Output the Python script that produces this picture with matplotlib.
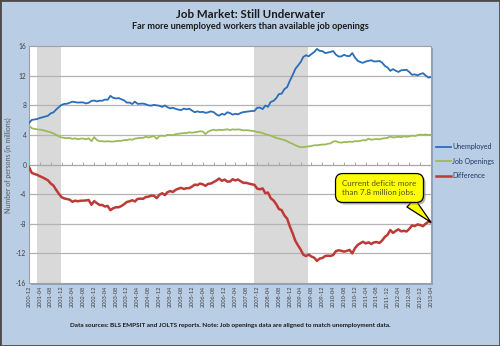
import matplotlib
matplotlib.use('Agg')
import matplotlib.pyplot as plt
import matplotlib.patches as patches
import matplotlib.patheffects as pe
import numpy as np
import pandas as pd

plt.rcParams['font.family'] = ['Lato', 'DejaVu Sans']

# monthly series, 2000-12 .. 2013-04 (millions of persons)
months = pd.date_range('2000-12-01', periods=149, freq='MS')

unemployed = (
    [5.60]
    + [6.02, 6.08, 6.14, 6.28, 6.38, 6.49, 6.58, 6.91, 7.04, 7.42, 7.76, 8.06]
    + [8.18, 8.21, 8.34, 8.48, 8.43, 8.36, 8.39, 8.38, 8.25, 8.34, 8.59, 8.64]
    + [8.52, 8.62, 8.61, 8.77, 8.74, 9.27, 9.01, 8.92, 8.97, 8.81, 8.67, 8.36]
    + [8.37, 8.17, 8.49, 8.19, 8.21, 8.23, 8.14, 7.99, 7.95, 8.06, 7.99, 7.93]
    + [7.78, 7.98, 7.74, 7.58, 7.66, 7.52, 7.41, 7.35, 7.55, 7.45, 7.54, 7.28]
    + [7.06, 7.18, 7.07, 7.12, 6.98, 7.05, 7.17, 7.07, 6.76, 6.59, 6.85, 6.73]
    + [7.06, 6.94, 6.74, 6.85, 6.77, 6.97, 7.08, 7.12, 7.18, 7.22, 7.24, 7.65]
    + [7.69, 7.48, 7.96, 7.79, 8.45, 8.59, 8.94, 9.51, 9.57, 10.17, 10.45, 11.29]
    + [12.06, 12.90, 13.33, 13.82, 14.52, 14.76, 14.61, 14.92, 15.19, 15.61, 15.34, 15.32]
    + [15.05, 15.11, 15.20, 15.32, 14.85, 14.58, 14.60, 14.81, 14.66, 14.63, 15.05, 14.45]
    + [14.00, 13.82, 13.73, 13.91, 14.00, 14.08, 13.92, 13.92, 13.99, 13.76, 13.32, 13.10]
    + [12.65, 12.88, 12.67, 12.50, 12.72, 12.75, 12.79, 12.49, 12.11, 12.17, 12.04, 12.21]
    + [12.33, 12.03, 11.74, 11.80]
)

job_openings = (
    [5.25]
    + [4.90, 4.80, 4.75, 4.70, 4.65, 4.55, 4.45, 4.35, 4.20, 4.00, 3.80, 3.65]
    + [3.60, 3.55, 3.60, 3.45, 3.55, 3.40, 3.50, 3.50, 3.40, 3.55, 3.15, 3.70]
    + [3.30, 3.15, 3.15, 3.10, 3.15, 3.10, 3.10, 3.15, 3.20, 3.20, 3.30, 3.30]
    + [3.40, 3.35, 3.50, 3.55, 3.60, 3.60, 3.75, 3.65, 3.75, 3.85, 3.45, 3.85]
    + [3.90, 3.85, 4.00, 4.00, 3.95, 4.10, 4.15, 4.20, 4.25, 4.25, 4.35, 4.30]
    + [4.35, 4.40, 4.50, 4.45, 4.10, 4.45, 4.60, 4.70, 4.60, 4.70, 4.65, 4.70]
    + [4.75, 4.65, 4.75, 4.70, 4.75, 4.70, 4.60, 4.65, 4.60, 4.55, 4.50, 4.40]
    + [4.35, 4.25, 4.10, 4.00, 3.90, 3.75, 3.60, 3.50, 3.40, 3.30, 3.15, 2.95]
    + [2.80, 2.60, 2.45, 2.35, 2.35, 2.40, 2.45, 2.50, 2.60, 2.60, 2.65, 2.70]
    + [2.70, 2.80, 2.85, 3.10, 3.15, 3.00, 2.95, 3.05, 3.00, 3.10, 3.05, 3.15]
    + [3.15, 3.20, 3.30, 3.25, 3.50, 3.35, 3.40, 3.45, 3.40, 3.50, 3.55, 3.60]
    + [3.80, 3.65, 3.70, 3.75, 3.70, 3.80, 3.75, 3.80, 3.90, 3.85, 3.95, 4.05]
    + [4.00, 4.05, 4.00, 4.00]
)

unemployed = np.array(unemployed)
job_openings = np.array(job_openings)
difference = job_openings - unemployed

recessions = [('2001-03-01', '2001-11-28'), ('2007-11-01', '2009-06-25')]

tick_months = months[::4]
tick_labels = [d.strftime('%Y-%m') for d in tick_months]

bg = '#b9cde5'
fig = plt.figure(figsize=(5, 3.46), dpi=100, facecolor=bg)

# plot-area drop shadow
fig.patches.append(patches.Rectangle((0.062, 0.176), 0.804, 0.685, transform=fig.transFigure,
                                     facecolor='#8fa3bb', edgecolor='none', zorder=-5))

ax = fig.add_axes([0.058, 0.182, 0.804, 0.685])
ax.set_zorder(2)
ax.set_facecolor('white')

for start, end in recessions:
    ax.axvspan(pd.Timestamp(start), pd.Timestamp(end), color='#d9d9d9', lw=0, zorder=0)

for y in [-12, -8, -4, 4, 8, 12]:
    ax.axhline(y, color='#b3b3b3', lw=0.9, zorder=1)
ax.axhline(0, color='#a6a6a6', lw=0.9, zorder=1)
ax.vlines(tick_months, 0, 0.35, color='#a6a6a6', lw=0.7, zorder=1)

ax.plot(months, unemployed, color='#2a6ebb', lw=1.3, label='Unemployed', zorder=3)
ax.plot(months, job_openings, color='#9bbb59', lw=1.3, label='Job Openings', zorder=3)
ax.plot(months, difference, color='#be3a35', lw=1.8, label='Difference', zorder=3)

ax.set_xlim(months[0], months[-1])
ax.set_ylim(-16, 16)
ax.set_yticks(range(-16, 17, 4))
ax.set_yticklabels([str(v) for v in range(-16, 17, 4)], fontsize=4.8, color='#404040')
ax.set_xticks(tick_months)
ax.set_xticklabels(tick_labels, rotation=90, fontsize=4.1, color='#404040')
ax.tick_params(length=0, pad=2)
for s in ax.spines.values():
    s.set_color('#a0a0a0')
    s.set_linewidth(0.8)

ann = ax.annotate('Current deficit: more\nthan 7.8 million jobs.',
                  xy=(months[-1], difference[-1]),
                  xytext=(379.5 / 500, 1 - 188 / 346), textcoords='figure fraction',
                  ha='center', va='center', ma='left', fontsize=5.8, color='#4a5514',
                  bbox=dict(boxstyle='round,pad=0.85,rounding_size=0.9', fc='#ffff00', ec='black', lw=0.9),
                  arrowprops=dict(arrowstyle='wedge,tail_width=1.4,shrink_factor=0.5', fc='#ffff00',
                                  ec='black', lw=0.9, relpos=(0.82, 0.0), shrinkA=0, shrinkB=0),
                  annotation_clip=False, zorder=5)
ann.get_bbox_patch().set_path_effects([pe.SimplePatchShadow(offset=(1.5, -1.5), shadow_rgbFace='gray', alpha=0.6),
                                       pe.Normal()])

handles, labels = ax.get_legend_handles_labels()
fig.legend(handles, labels, loc='upper left', bbox_to_anchor=(436 / 500, 1 - 143 / 346), frameon=False,
           fontsize=5, handlelength=2.2, handletextpad=0.1, labelspacing=1.1, borderaxespad=0,
           borderpad=0, labelcolor='#1f3864')

fig.text(0.5, 1 - 14 / 346, 'Job Market: Still Underwater', ha='center', va='center',
         fontsize=8.3, fontweight='bold', color='#1a1a1a')
fig.text(0.5, 1 - 26.5 / 346, 'Far more unemployed workers than available job openings', ha='center',
         va='center', fontsize=6.6, fontweight='bold', color='#1a1a1a')
fig.text(8 / 500, 1 - 165 / 346, 'Number of persons (in millions)', rotation=90, ha='center', va='center',
         fontsize=5, color='#595959')
fig.text(230.5 / 500, 1 - 325 / 346,
         'Data sources: BLS EMPSIT and JOLTS reports. Note: Job openings data are aligned to match unemployment data.',
         ha='center', va='center', fontsize=4.6, fontweight='bold', color='#1a1a1a')

fig.patches.append(patches.Rectangle((0, 0), 1, 1, transform=fig.transFigure, fill=False,
                                     edgecolor='#4a4a4a', lw=2, zorder=10))

fig.savefig('out.png', dpi=100, facecolor=fig.get_facecolor())
